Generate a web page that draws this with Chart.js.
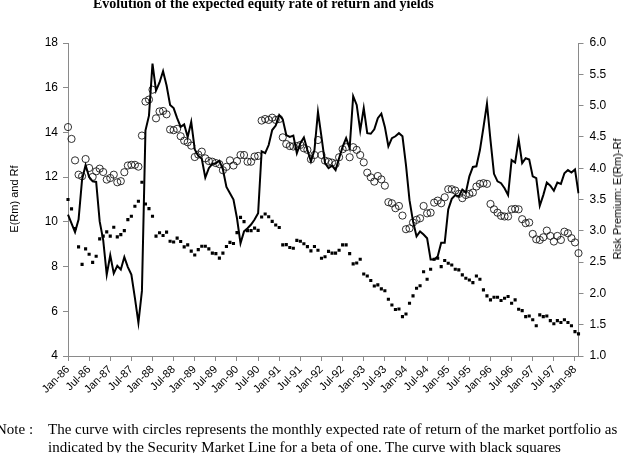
<!DOCTYPE html>
<html>
<head>
<meta charset="utf-8">
<script src="https://cdn.jsdelivr.net/npm/chart.js@4.4.0/dist/chart.umd.min.js"></script>
<style>
  html, body { margin: 0; padding: 0; background: #fff; }
  #wrap { position: relative; width: 623px; height: 453px; overflow: hidden; }
  #chart { position: absolute; left: 0; top: 0; }
  #title { position: absolute; left: 93px; top: -3px; font: bold 14px "Liberation Serif", serif; line-height: 14px; white-space: nowrap; color: #000; }
  .axisTitle { position: absolute; font: 11px "Liberation Sans", Arial, sans-serif; white-space: nowrap; color: #000;
               transform: translate(-50%, -50%) rotate(-90deg); }
  #leftTitle { left: 14px; top: 199px; }
  #rightTitle { left: 617px; top: 199px; }
  .note { position: absolute; top: 421px; font: 15px "Liberation Serif", serif; line-height: 17.5px; white-space: nowrap; color: #000; }
  #noteLabel { left: -4px; }
  #noteText { left: 48px; }
</style>
</head>
<body>
<div id="wrap">
  <canvas id="chart" width="623" height="453"></canvas>
  <div id="title">Evolution of the expected equity rate of return and yields</div>
  <div class="axisTitle" id="leftTitle">E(Rm) and Rf</div>
  <div class="axisTitle" id="rightTitle">Risk Premium: E(Rm)-Rf</div>
  <div class="note" id="noteLabel">Note :</div>
  <div class="note" id="noteText">The curve with circles represents the monthly expected rate of return of the market portfolio as<br>indicated by the Security Market Line for a beta of one. The curve with black squares</div>
</div>
<script>
// monthly values, Jan-86 .. Feb-98
var expReturn = [
  14.24, 13.71, 12.75, 12.11, 12.04, 12.81, 12.41, 12.01, 12.26, 12.38,
  12.23, 11.89, 11.96, 12.11, 11.77, 11.82, 12.22, 12.52, 12.55, 12.55,
  12.47, 13.86, 15.38, 15.47, 15.91, 14.63, 14.94, 14.96, 14.81, 14.13,
  14.10, 14.16, 13.83, 13.63, 13.56, 13.41, 12.90, 13.01, 13.14, 12.84,
  12.72, 12.69, 12.63, 12.58, 12.31, 12.46, 12.75, 12.52, 12.72, 12.99,
  12.99, 12.69, 12.69, 12.92, 12.95, 14.53, 14.60, 14.56, 14.66, 14.56,
  14.60, 13.78, 13.48, 13.39, 13.37, 13.39, 13.44, 13.29, 13.22, 12.80,
  12.99, 13.66, 12.99, 12.74, 12.69, 12.65, 12.59, 12.89, 13.25, 13.34,
  12.89, 13.34, 13.22, 12.99, 12.66, 12.20, 11.99, 11.80, 12.05, 11.90,
  11.62, 10.88, 10.83, 10.61, 10.71, 10.28, 9.67, 9.71, 9.97, 10.09,
  10.16, 10.71, 10.38, 10.41, 10.86, 10.95, 10.83, 11.10, 11.46, 11.46,
  11.40, 11.25, 11.06, 11.20, 11.25, 11.31, 11.58, 11.70, 11.73, 11.70,
  10.80, 10.56, 10.41, 10.27, 10.24, 10.24, 10.56, 10.58, 10.56, 10.12,
  9.94, 9.97, 9.46, 9.22, 9.19, 9.31, 9.61, 9.37, 9.12, 9.37,
  9.19, 9.56, 9.49, 9.27, 9.08, 8.60
];

var riskFree = [
  11.00, 10.58, 9.70, 8.88, 8.10, 8.79, 8.55, 8.19, 8.46, 9.24,
  9.36, 9.55, 9.36, 9.76, 9.33, 9.43, 9.61, 10.10, 10.25, 10.70,
  10.92, 11.77, 10.80, 10.59, 10.25, 9.36, 9.51, 9.39, 9.54, 9.13,
  9.10, 9.27, 9.12, 8.88, 8.97, 8.69, 8.52, 8.76, 8.91, 8.91,
  8.79, 8.60, 8.58, 8.38, 8.60, 8.90, 9.08, 9.03, 9.52, 10.20,
  10.01, 9.61, 9.61, 9.72, 9.62, 10.22, 10.35, 10.23, 10.02, 9.86,
  9.75, 8.97, 8.98, 8.85, 8.82, 9.17, 9.13, 9.02, 8.89, 8.70,
  8.90, 8.73, 8.37, 8.44, 8.68, 8.60, 8.60, 8.73, 8.97, 8.97,
  8.58, 8.12, 8.16, 8.33, 7.67, 7.58, 7.38, 7.13, 7.18, 7.00,
  6.92, 6.54, 6.28, 6.08, 6.10, 5.76, 5.88, 6.36, 6.69, 7.03,
  7.14, 7.77, 7.43, 7.88, 8.33, 8.37, 8.00, 8.27, 8.15, 8.07,
  7.88, 7.85, 7.63, 7.48, 7.40, 7.28, 7.58, 7.43, 6.96, 6.69,
  6.51, 6.63, 6.63, 6.48, 6.58, 6.66, 6.36, 6.51, 6.09, 6.03,
  5.76, 5.79, 5.62, 5.35, 5.84, 5.76, 5.79, 5.58, 5.44, 5.58,
  5.50, 5.62, 5.50, 5.35, 5.09, 4.99
];

var riskPremium = [
  3.26, 3.12, 2.98, 3.18, 3.82, 4.05, 3.86, 3.79, 3.78, 3.15,
  2.85, 2.30, 2.61, 2.32, 2.44, 2.38, 2.58, 2.42, 2.30, 1.93,
  1.53, 2.04, 4.60, 4.84, 5.67, 5.24, 5.37, 5.55, 5.32, 5.01,
  4.96, 4.80, 4.66, 4.70, 4.50, 4.74, 4.30, 4.20, 4.15, 3.85,
  4.00, 4.07, 4.08, 4.12, 3.98, 3.70, 3.60, 3.50, 3.20, 2.80,
  2.99, 3.04, 3.10, 3.18, 3.28, 4.27, 4.24, 4.37, 4.61, 4.68,
  4.85, 4.78, 4.53, 4.50, 4.52, 4.24, 4.40, 4.49, 4.29, 4.11,
  4.29, 4.90, 4.50, 4.08, 4.00, 4.04, 3.97, 4.16, 4.34, 4.48,
  4.32, 5.15, 5.01, 4.60, 4.96, 4.56, 4.55, 4.62, 4.80, 4.87,
  4.66, 4.35, 4.48, 4.51, 4.56, 4.51, 4.05, 3.49, 3.15, 2.91,
  2.99, 2.94, 2.88, 2.54, 2.54, 2.59, 2.81, 2.81, 3.34, 3.51,
  3.57, 3.55, 3.66, 3.61, 3.87, 4.02, 4.03, 4.29, 4.65, 5.03,
  4.45, 3.91, 3.79, 3.76, 3.68, 3.57, 4.13, 4.09, 4.46, 4.08,
  4.16, 4.14, 3.87, 3.84, 3.40, 3.57, 3.77, 3.72, 3.64, 3.77,
  3.75, 3.92, 3.97, 3.93, 3.98, 3.60
];

var monthNames = ['Jan','Feb','Mar','Apr','May','Jun','Jul','Aug','Sep','Oct','Nov','Dec'];
var firstYear = 86;
var labelEvery = 6;

var months = [];
for (let i = 0; i < expReturn.length; i++) {
  let yr = (firstYear + Math.floor(i / 12)) % 100;
  months.push(monthNames[i % 12] + '-' + (yr < 10 ? '0' + yr : yr));
}

var axisGrey = '#8a8a8a';
var tickFont = { family: 'Liberation Sans', size: 11 };

var ctx = document.getElementById('chart').getContext('2d');

var chart = new Chart(ctx, {
  type: 'line',
  data: {
    labels: months,
    datasets: [{
      label: 'Risk premium',
      data: riskPremium,
      yAxisID: 'y1',
      borderColor: '#000',
      borderWidth: 2,
      pointRadius: 0,
      tension: 0,
      fill: false
    }, {
      label: 'E(Rm)',
      data: expReturn,
      yAxisID: 'y',
      showLine: false,
      pointStyle: 'circle',
      pointRadius: 3.6,
      pointBorderWidth: 0.9,
      pointBorderColor: '#1a1a1a',
      pointBackgroundColor: 'rgba(255,255,255,0)',
      clip: 6
    }, {
      label: 'Rf',
      data: riskFree,
      yAxisID: 'y',
      showLine: false,
      pointStyle: 'rect',
      pointRadius: 2.2,
      pointBorderWidth: 0,
      pointBackgroundColor: '#000',
      clip: 6
    }]
  },
  options: {
    responsive: false,
    animation: false,
    devicePixelRatio: 1,
    layout: { padding: { top: 43, left: 0, right: 0, bottom: 0 } },
    plugins: {
      legend: { display: false },
      tooltip: { enabled: false }
    },
    scales: {
      x: {
        offset: false,
        grid: {
          drawOnChartArea: false,
          tickLength: 5,
          color: c => (c.index % labelEvery === 0 ? axisGrey : 'rgba(0,0,0,0)')
        },
        border: { color: axisGrey, width: 1 },
        ticks: {
          autoSkip: false,
          minRotation: 45,
          maxRotation: 45,
          padding: 2,
          color: '#000',
          font: tickFont,
          callback: (v, i) => (i % labelEvery === 0 ? months[i] : '')
        },
        afterFit: s => { s.height = 97; }
      },
      y: {
        position: 'left',
        min: 4,
        max: 18,
        grid: { drawOnChartArea: false, tickLength: 5, color: axisGrey },
        border: { color: axisGrey, width: 1 },
        ticks: { stepSize: 2, padding: 5, color: '#000', font: { family: 'Liberation Sans', size: 12 } },
        afterFit: s => { s.width = 68; }
      },
      y1: {
        position: 'right',
        min: 1,
        max: 6,
        grid: { drawOnChartArea: false, tickLength: 5, color: axisGrey },
        border: { color: axisGrey, width: 1 },
        ticks: { stepSize: 0.5, padding: 6, color: '#000', font: { family: 'Liberation Sans', size: 12 },
                 callback: v => v.toFixed(1) },
        afterFit: s => { s.width = 44.5; }
      }
    }
  }
});
</script>
</body>
</html>
